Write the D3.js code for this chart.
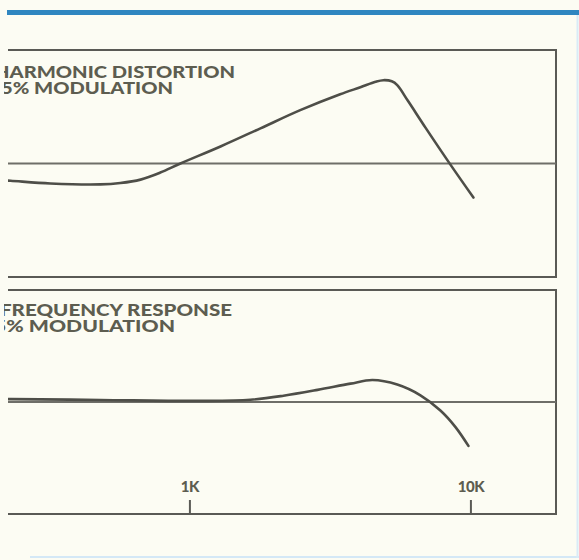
<!DOCTYPE html>
<html><head><meta charset="utf-8">
<script src="https://cdn.jsdelivr.net/npm/d3@7"></script>
<style>
html,body{margin:0;padding:0;background:#fcfcf3;}
svg{display:block;}
</style></head>
<body>
<svg id="chart" width="579" height="560"></svg>
<script>
// ---- data ----
const distFreq = [200, 231, 320, 482, 568, 670, 788, 929, 1290, 1790, 2480, 3440, 4060, 4600, 4900, 5250, 5490, 6000, 6920, 8490, 10250];
const distValue = [-0.71, -0.76, -0.88, -0.92, -0.86, -0.71, -0.40, 0.0, 0.75, 1.55, 2.35, 3.05, 3.36, 3.60, 3.67, 3.62, 3.45, 2.75, 1.58, -0.05, -1.5];
const respFreq = [200, 231, 482, 1094, 1648, 2162, 2858, 3742, 4480, 5490, 6640, 7820, 8850, 9840];
const respValue = [0.13, 0.13, 0.09, 0.05, 0.10, 0.28, 0.54, 0.82, 0.98, 0.78, 0.30, -0.38, -1.12, -1.96];
const tickValues = [1000, 10000];
const tickLabels = ["1K", "10K"];
const distTitle = ["HARMONIC DISTORTION", "5% MODULATION"];
const respTitle = ["FREQUENCY RESPONSE", "5% MODULATION"];

// ---- layout ----
const svg = d3.select("#chart");
const ink = "#4e4e48";
const textInk = "#5d5d50";

const x = d3.scaleLog().domain([200, 20000]).range([-7, 555]);
const yTop = d3.scaleLinear().domain([-5, 5]).range([277, 50]);
const yBot = d3.scaleLinear().domain([-5, 5]).range([514, 290]);

// decorative blue rules
svg.append("rect").attr("x", 7).attr("y", 10).attr("width", 572).attr("height", 5).attr("fill", "#2f86c0");
svg.append("line").attr("x1", 30).attr("x2", 579).attr("y1", 557).attr("y2", 557).attr("stroke", "#d4e8f6").attr("stroke-width", 2);
svg.append("line").attr("x1", 577.5).attr("x2", 577.5).attr("y1", 15).attr("y2", 558).attr("stroke", "#d9ebf7").attr("stroke-width", 2);

svg.append("defs").append("clipPath").attr("id", "clipL")
  .append("rect").attr("x", 8).attr("y", 0).attr("width", 571).attr("height", 560);
svg.append("defs").append("clipPath").attr("id", "clipT")
  .append("rect").attr("x", 4).attr("y", 0).attr("width", 575).attr("height", 560);

const g = svg.append("g").attr("clip-path", "url(#clipL)");
const gt = svg.append("g").attr("clip-path", "url(#clipT)");

function panel(y, freqs, vals, title, titleLayout) {
  const [y0, y1] = y.range();
  // frame
  g.append("rect").attr("x", x.range()[0]).attr("y", y1)
    .attr("width", x.range()[1] + 1 - x.range()[0]).attr("height", y0 - y1)
    .attr("fill", "none").attr("stroke", "#5a5a55").attr("stroke-width", 2);
  // reference line
  g.append("line").attr("x1", x.range()[0]).attr("x2", x.range()[1] + 1)
    .attr("y1", y(0)).attr("y2", y(0)).attr("stroke", "#6e6e68").attr("stroke-width", 2);
  // curve
  const line = d3.line().x((d, i) => x(freqs[i])).y(d => y(d)).curve(d3.curveCatmullRom.alpha(0.5));
  g.append("path").attr("d", line(vals)).attr("fill", "none")
    .attr("stroke", ink).attr("stroke-width", 2.6).attr("stroke-linecap", "round");
  // titles
  title.forEach((t, i) => {
    const L = titleLayout[i];
    gt.append("text").attr("x", L.x).attr("y", L.y).text(t)
      .attr("font-family", "Lato, 'DejaVu Sans', sans-serif").attr("font-weight", 900)
      .attr("font-size", 16.5).attr("fill", textInk)
      .attr("textLength", L.w).attr("lengthAdjust", "spacingAndGlyphs");
  });
}

panel(yTop, distFreq, distValue, distTitle, [{x: -6, y: 78, w: 241}, {x: 1, y: 94, w: 172}]);
panel(yBot, respFreq, respValue, respTitle, [{x: 0, y: 316, w: 232}, {x: -6, y: 332, w: 181}]);

// axis with ticks pointing up
const axis = d3.axisTop(x).tickValues(tickValues)
  .tickFormat((d, i) => tickLabels[i]).tickSize(14).tickSizeOuter(0).tickPadding(8);
const ax = svg.append("g").attr("transform", "translate(0,514)").call(axis);
ax.select(".domain").remove();
ax.selectAll(".tick line").attr("stroke", "#5a5a55").attr("stroke-width", 2);
ax.selectAll(".tick text").attr("font-family", "Lato, 'DejaVu Sans', sans-serif")
  .attr("font-weight", 900).attr("font-size", 15).attr("fill", textInk).attr("letter-spacing", "-0.5");
</script>
</body></html>
